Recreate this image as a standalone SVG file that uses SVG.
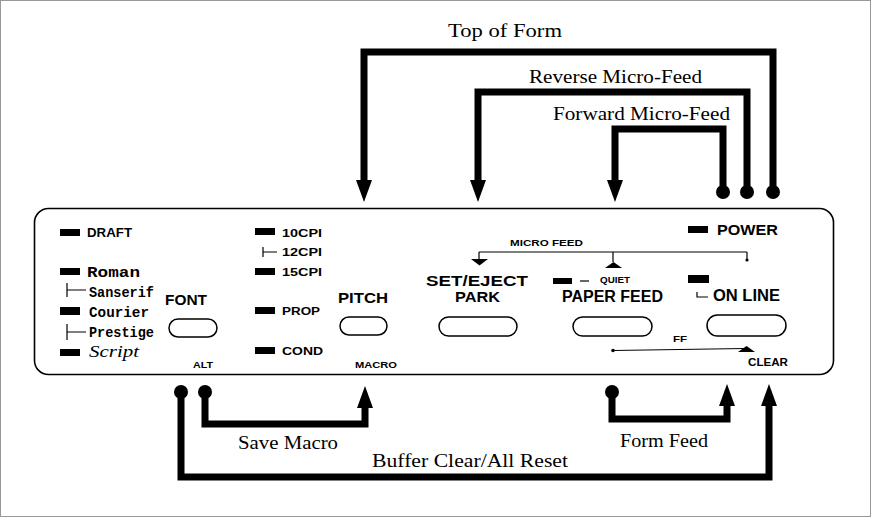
<svg xmlns="http://www.w3.org/2000/svg" width="872" height="518" viewBox="0 0 872 518">
<style>
.lbl{font-family:"Liberation Serif","Times New Roman",serif;font-size:18px;fill:#000}
.sb{font-family:"Liberation Sans",Arial,sans-serif;font-weight:bold;fill:#000}
.mono{font-family:"Liberation Mono","Courier New",monospace;font-weight:bold;font-size:15px;fill:#000}
.scr{font-family:"Liberation Serif","Times New Roman",serif;font-style:italic;font-size:16px;fill:#000}
.led{fill:#000}
.btn{fill:#fff;stroke:#000;stroke-width:1.5}
.thin{fill:none;stroke:#000;stroke-width:1.2}
.conn{fill:none;stroke:#000;stroke-width:7;stroke-linejoin:miter;marker-end:url(#ah)}
.dot{fill:#000}
</style>
<defs>
<marker id="ah" markerUnits="userSpaceOnUse" viewBox="0 0 22 16" refX="0" refY="8" markerWidth="22" markerHeight="16" orient="auto">
<path d="M0,0 L22,8 L0,16 Z" fill="#000"/>
</marker>
</defs>
<rect x="0.5" y="0.5" width="870" height="516" fill="#fff" stroke="#999" stroke-width="1"/>

<g id="panel">
<rect x="34.5" y="208.5" width="799" height="166" rx="14" fill="#fff" stroke="#000" stroke-width="1.6"/>
</g>

<g id="font-group">
<rect class="led" x="60" y="229" width="20" height="7"/>
<text class="sb" x="87" y="237" font-size="12.5" textLength="45" lengthAdjust="spacingAndGlyphs">DRAFT</text>
<rect class="led" x="60" y="268" width="20" height="7"/>
<text class="mono" x="87" y="277" textLength="53" lengthAdjust="spacingAndGlyphs">Roman</text>
<path class="thin" d="M67,283 V297 M67,290 H86"/>
<text class="mono" x="89" y="297" textLength="65" lengthAdjust="spacingAndGlyphs">Sanserif</text>
<rect class="led" x="60" y="307" width="20" height="8"/>
<text class="mono" x="89" y="317" textLength="60" lengthAdjust="spacingAndGlyphs">Courier</text>
<path class="thin" d="M67,324 V340 M67,332 H86"/>
<text class="mono" x="89" y="337" textLength="65" lengthAdjust="spacingAndGlyphs">Prestige</text>
<rect class="led" x="60" y="349" width="20" height="7"/>
<text class="scr" x="89" y="357" textLength="50" lengthAdjust="spacingAndGlyphs">Script</text>
</g>

<g id="font-button">
<text class="sb" x="165" y="305" font-size="15" textLength="42" lengthAdjust="spacingAndGlyphs">FONT</text>
<rect class="btn" x="169" y="319" width="48" height="18" rx="9"/>
<text class="sb" x="193" y="368" font-size="9.5" textLength="20" lengthAdjust="spacingAndGlyphs">ALT</text>
</g>

<g id="pitch-group">
<rect class="led" x="255" y="228" width="20" height="7"/>
<text class="sb" x="282" y="237" font-size="11.5" textLength="40" lengthAdjust="spacingAndGlyphs">10CPI</text>
<path class="thin" d="M263,247 V257 M263,252 H277"/>
<text class="sb" x="282" y="256" font-size="11.5" textLength="40" lengthAdjust="spacingAndGlyphs">12CPI</text>
<rect class="led" x="255" y="268" width="20" height="7"/>
<text class="sb" x="282" y="276" font-size="11.5" textLength="40" lengthAdjust="spacingAndGlyphs">15CPI</text>
<rect class="led" x="255" y="307" width="20" height="7"/>
<text class="sb" x="282" y="315" font-size="11.5" textLength="38" lengthAdjust="spacingAndGlyphs">PROP</text>
<rect class="led" x="255" y="347" width="20" height="7"/>
<text class="sb" x="282" y="355" font-size="11.5" textLength="41" lengthAdjust="spacingAndGlyphs">COND</text>
</g>

<g id="pitch-button">
<text class="sb" x="338" y="303" font-size="15" textLength="50" lengthAdjust="spacingAndGlyphs">PITCH</text>
<rect class="btn" x="340" y="317" width="47" height="18" rx="9"/>
<text class="sb" x="355" y="368" font-size="9.5" textLength="42" lengthAdjust="spacingAndGlyphs">MACRO</text>
</g>

<g id="micro-feed">
<text class="sb" x="510" y="246" font-size="9.5" textLength="73" lengthAdjust="spacingAndGlyphs">MICRO FEED</text>
<path class="thin" d="M479,252 H747 M479,252 V259 M613,252 V262 M747,252 V259"/>
<circle class="dot" cx="747" cy="260" r="1.6"/>
<path d="M471,259 H488 L479.5,265.5 Z" fill="#000"/>
<path d="M605,268 H622 L613.5,262 Z" fill="#000"/>
</g>

<g id="set-eject-button">
<text class="sb" x="426" y="286" font-size="14" textLength="102" lengthAdjust="spacingAndGlyphs">SET/EJECT</text>
<text class="sb" x="455" y="302" font-size="14" textLength="45" lengthAdjust="spacingAndGlyphs">PARK</text>
<rect class="btn" x="439" y="317" width="78" height="19" rx="9.5"/>
</g>

<g id="paper-feed-button">
<rect class="led" x="553" y="278" width="19" height="6"/>
<path class="thin" d="M580,281 H589"/>
<text class="sb" x="600" y="283" font-size="8.5" textLength="30" lengthAdjust="spacingAndGlyphs">QUIET</text>
<text class="sb" x="562" y="302" font-size="16" textLength="101" lengthAdjust="spacingAndGlyphs">PAPER FEED</text>
<rect class="btn" x="573" y="317" width="79" height="19" rx="9.5"/>
</g>

<g id="ff-clear">
<circle class="dot" cx="613" cy="350.5" r="1.8"/>
<path class="thin" d="M613,350.5 L745,348.5"/>
<path d="M738,352 H755 L746.5,346 Z" fill="#000"/>
<text class="sb" x="673" y="342" font-size="8.5" textLength="14" lengthAdjust="spacingAndGlyphs">FF</text>
<text class="sb" x="748" y="366" font-size="10" textLength="40" lengthAdjust="spacingAndGlyphs">CLEAR</text>
</g>

<g id="power">
<rect class="led" x="688" y="226" width="20" height="7"/>
<text class="sb" x="717" y="235" font-size="15" textLength="61" lengthAdjust="spacingAndGlyphs">POWER</text>
</g>

<g id="online-button">
<rect class="led" x="688" y="275" width="21" height="8"/>
<path class="thin" d="M697,292 V297 H708"/>
<text class="sb" x="713" y="301" font-size="16" textLength="67" lengthAdjust="spacingAndGlyphs">ON LINE</text>
<rect class="btn" x="707" y="315" width="79" height="21" rx="10.5"/>
</g>

<g id="connectors">
<path class="conn" d="M773,192 V52 H364 V180"/>
<circle class="dot" cx="773" cy="192" r="7"/>
<path class="conn" d="M747,192 V92 H478 V180"/>
<circle class="dot" cx="747" cy="192" r="7"/>
<path class="conn" d="M723,192 V129 H615 V180"/>
<circle class="dot" cx="723" cy="192" r="7"/>
<path class="conn" d="M205,392 V424 H365 V408"/>
<circle class="dot" cx="205" cy="392" r="7"/>
<path class="conn" d="M181,392 V477 H769 V406"/>
<circle class="dot" cx="181" cy="392" r="7"/>
<path class="conn" d="M612,392 V419 H727 V406"/>
<circle class="dot" cx="612" cy="392" r="7"/>
</g>

<g id="labels">
<text class="lbl" x="448" y="37" textLength="114" lengthAdjust="spacingAndGlyphs">Top of Form</text>
<text class="lbl" x="529" y="83" textLength="173" lengthAdjust="spacingAndGlyphs">Reverse Micro-Feed</text>
<text class="lbl" x="553" y="120" textLength="177" lengthAdjust="spacingAndGlyphs">Forward Micro-Feed</text>
<text class="lbl" x="238" y="449" textLength="100" lengthAdjust="spacingAndGlyphs">Save Macro</text>
<text class="lbl" x="620" y="447" textLength="88" lengthAdjust="spacingAndGlyphs">Form Feed</text>
<text class="lbl" x="372" y="467" textLength="196" lengthAdjust="spacingAndGlyphs">Buffer Clear/All Reset</text>
</g>
</svg>
